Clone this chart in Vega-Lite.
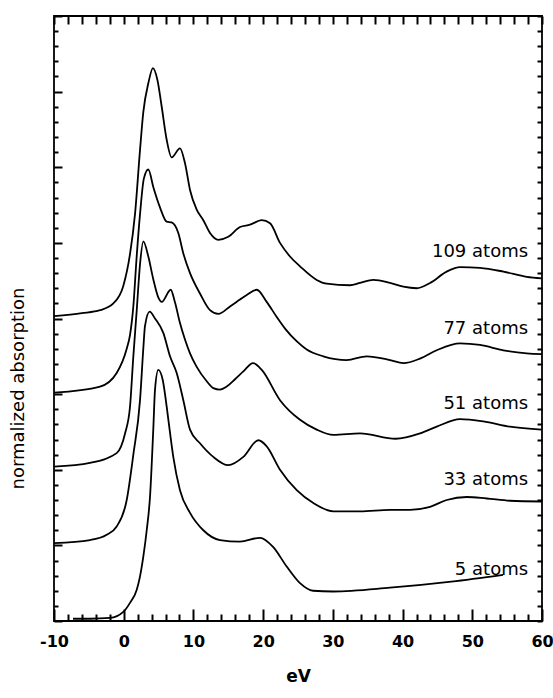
{
  "$schema": "https://vega.github.io/schema/vega-lite/v6.json",
  "width": 488,
  "height": 605,
  "autosize": "none",
  "padding": {"left": 54, "top": 16, "right": 11, "bottom": 77},
  "background": "white",
  "config": {
    "view": {"stroke": "black", "strokeWidth": 1.8},
    "axis": {"domain": false, "grid": false, "tickColor": "black", "tickWidth": 2, "labelColor": "black", "titleColor": "black"}
  },
  "datasets": {
    "curves": [
      {"s": "109 atoms", "x": -10, "y": 4.03}, {"s": "109 atoms", "x": -6, "y": 4.07}, {"s": "109 atoms", "x": -3.4, "y": 4.11}, {"s": "109 atoms", "x": -1.49, "y": 4.2}, {"s": "109 atoms", "x": -0.06, "y": 4.43}, {"s": "109 atoms", "x": 0.9, "y": 4.85}, {"s": "109 atoms", "x": 1.62, "y": 5.38}, {"s": "109 atoms", "x": 2.34, "y": 6.23}, {"s": "109 atoms", "x": 2.81, "y": 6.73}, {"s": "109 atoms", "x": 3.53, "y": 7.11}, {"s": "109 atoms", "x": 4.19, "y": 7.31}, {"s": "109 atoms", "x": 4.82, "y": 7.16}, {"s": "109 atoms", "x": 5.45, "y": 6.8}, {"s": "109 atoms", "x": 6.17, "y": 6.36}, {"s": "109 atoms", "x": 6.88, "y": 6.13}, {"s": "109 atoms", "x": 8.07, "y": 6.25}, {"s": "109 atoms", "x": 8.8, "y": 6.05}, {"s": "109 atoms", "x": 9.51, "y": 5.7}, {"s": "109 atoms", "x": 10.47, "y": 5.44}, {"s": "109 atoms", "x": 11.42, "y": 5.3}, {"s": "109 atoms", "x": 12.38, "y": 5.13}, {"s": "109 atoms", "x": 13.57, "y": 5.04}, {"s": "109 atoms", "x": 15.0, "y": 5.08}, {"s": "109 atoms", "x": 16.68, "y": 5.21}, {"s": "109 atoms", "x": 18.12, "y": 5.24}, {"s": "109 atoms", "x": 19.8, "y": 5.3}, {"s": "109 atoms", "x": 20.99, "y": 5.26}, {"s": "109 atoms", "x": 22.42, "y": 5.0}, {"s": "109 atoms", "x": 23.85, "y": 4.82}, {"s": "109 atoms", "x": 25.29, "y": 4.69}, {"s": "109 atoms", "x": 27.68, "y": 4.51}, {"s": "109 atoms", "x": 29.12, "y": 4.46}, {"s": "109 atoms", "x": 32.46, "y": 4.44}, {"s": "109 atoms", "x": 33.9, "y": 4.47}, {"s": "109 atoms", "x": 35.8, "y": 4.51}, {"s": "109 atoms", "x": 38.2, "y": 4.47}, {"s": "109 atoms", "x": 40.11, "y": 4.42}, {"s": "109 atoms", "x": 42.03, "y": 4.4}, {"s": "109 atoms", "x": 43.94, "y": 4.47}, {"s": "109 atoms", "x": 46.33, "y": 4.62}, {"s": "109 atoms", "x": 48.24, "y": 4.68}, {"s": "109 atoms", "x": 51.11, "y": 4.67}, {"s": "109 atoms", "x": 54.46, "y": 4.62}, {"s": "109 atoms", "x": 57.81, "y": 4.55}, {"s": "109 atoms", "x": 59.96, "y": 4.53},
      {"s": "77 atoms", "x": -10, "y": 3.02}, {"s": "77 atoms", "x": -3.4, "y": 3.1}, {"s": "77 atoms", "x": -1.01, "y": 3.28}, {"s": "77 atoms", "x": 0.43, "y": 3.6}, {"s": "77 atoms", "x": 0.9, "y": 3.78}, {"s": "77 atoms", "x": 1.38, "y": 4.16}, {"s": "77 atoms", "x": 1.86, "y": 4.82}, {"s": "77 atoms", "x": 2.34, "y": 5.38}, {"s": "77 atoms", "x": 2.89, "y": 5.85}, {"s": "77 atoms", "x": 3.53, "y": 5.97}, {"s": "77 atoms", "x": 4.24, "y": 5.74}, {"s": "77 atoms", "x": 5.2, "y": 5.47}, {"s": "77 atoms", "x": 6.17, "y": 5.28}, {"s": "77 atoms", "x": 6.88, "y": 5.27}, {"s": "77 atoms", "x": 7.83, "y": 5.13}, {"s": "77 atoms", "x": 8.55, "y": 4.86}, {"s": "77 atoms", "x": 9.51, "y": 4.6}, {"s": "77 atoms", "x": 10.94, "y": 4.33}, {"s": "77 atoms", "x": 12.38, "y": 4.11}, {"s": "77 atoms", "x": 13.57, "y": 4.06}, {"s": "77 atoms", "x": 15.25, "y": 4.16}, {"s": "77 atoms", "x": 16.68, "y": 4.25}, {"s": "77 atoms", "x": 17.64, "y": 4.31}, {"s": "77 atoms", "x": 19.08, "y": 4.38}, {"s": "77 atoms", "x": 20.51, "y": 4.22}, {"s": "77 atoms", "x": 21.95, "y": 4.02}, {"s": "77 atoms", "x": 23.2, "y": 3.86}, {"s": "77 atoms", "x": 24.8, "y": 3.7}, {"s": "77 atoms", "x": 26.25, "y": 3.59}, {"s": "77 atoms", "x": 28.63, "y": 3.5}, {"s": "77 atoms", "x": 31.99, "y": 3.45}, {"s": "77 atoms", "x": 34.86, "y": 3.5}, {"s": "77 atoms", "x": 38.2, "y": 3.45}, {"s": "77 atoms", "x": 40.11, "y": 3.41}, {"s": "77 atoms", "x": 42.5, "y": 3.47}, {"s": "77 atoms", "x": 44.9, "y": 3.58}, {"s": "77 atoms", "x": 48.24, "y": 3.67}, {"s": "77 atoms", "x": 51.11, "y": 3.65}, {"s": "77 atoms", "x": 54.46, "y": 3.58}, {"s": "77 atoms", "x": 57.81, "y": 3.54}, {"s": "77 atoms", "x": 59.96, "y": 3.53},
      {"s": "51 atoms", "x": -10, "y": 2.04}, {"s": "51 atoms", "x": -4.84, "y": 2.09}, {"s": "51 atoms", "x": -1.01, "y": 2.22}, {"s": "51 atoms", "x": 0.19, "y": 2.48}, {"s": "51 atoms", "x": 0.9, "y": 2.83}, {"s": "51 atoms", "x": 1.38, "y": 3.5}, {"s": "51 atoms", "x": 1.86, "y": 4.1}, {"s": "51 atoms", "x": 2.34, "y": 4.72}, {"s": "51 atoms", "x": 2.81, "y": 5.02}, {"s": "51 atoms", "x": 3.53, "y": 4.82}, {"s": "51 atoms", "x": 4.24, "y": 4.52}, {"s": "51 atoms", "x": 4.96, "y": 4.28}, {"s": "51 atoms", "x": 5.45, "y": 4.22}, {"s": "51 atoms", "x": 6.74, "y": 4.38}, {"s": "51 atoms", "x": 7.36, "y": 4.21}, {"s": "51 atoms", "x": 8.07, "y": 3.94}, {"s": "51 atoms", "x": 8.8, "y": 3.72}, {"s": "51 atoms", "x": 9.51, "y": 3.54}, {"s": "51 atoms", "x": 10.47, "y": 3.36}, {"s": "51 atoms", "x": 11.91, "y": 3.17}, {"s": "51 atoms", "x": 12.85, "y": 3.08}, {"s": "51 atoms", "x": 13.81, "y": 3.06}, {"s": "51 atoms", "x": 14.77, "y": 3.1}, {"s": "51 atoms", "x": 16.0, "y": 3.2}, {"s": "51 atoms", "x": 17.16, "y": 3.3}, {"s": "51 atoms", "x": 18.55, "y": 3.41}, {"s": "51 atoms", "x": 19.8, "y": 3.32}, {"s": "51 atoms", "x": 22.42, "y": 2.92}, {"s": "51 atoms", "x": 25.29, "y": 2.66}, {"s": "51 atoms", "x": 27.68, "y": 2.53}, {"s": "51 atoms", "x": 30.07, "y": 2.46}, {"s": "51 atoms", "x": 33.9, "y": 2.48}, {"s": "51 atoms", "x": 39.0, "y": 2.41}, {"s": "51 atoms", "x": 42.5, "y": 2.48}, {"s": "51 atoms", "x": 44.9, "y": 2.57}, {"s": "51 atoms", "x": 48.24, "y": 2.67}, {"s": "51 atoms", "x": 51.59, "y": 2.64}, {"s": "51 atoms", "x": 55.41, "y": 2.57}, {"s": "51 atoms", "x": 59.96, "y": 2.53},
      {"s": "33 atoms", "x": -10, "y": 1.03}, {"s": "33 atoms", "x": -4.84, "y": 1.07}, {"s": "33 atoms", "x": -2.44, "y": 1.14}, {"s": "33 atoms", "x": -1.01, "y": 1.25}, {"s": "33 atoms", "x": 0.43, "y": 1.6}, {"s": "33 atoms", "x": 1.38, "y": 2.2}, {"s": "33 atoms", "x": 2.34, "y": 2.92}, {"s": "33 atoms", "x": 2.81, "y": 3.6}, {"s": "33 atoms", "x": 3.05, "y": 3.9}, {"s": "33 atoms", "x": 3.72, "y": 4.09}, {"s": "33 atoms", "x": 4.49, "y": 4.0}, {"s": "33 atoms", "x": 5.68, "y": 3.81}, {"s": "33 atoms", "x": 6.64, "y": 3.5}, {"s": "33 atoms", "x": 7.6, "y": 3.28}, {"s": "33 atoms", "x": 8.55, "y": 2.92}, {"s": "33 atoms", "x": 9.51, "y": 2.53}, {"s": "33 atoms", "x": 10.94, "y": 2.35}, {"s": "33 atoms", "x": 12.85, "y": 2.17}, {"s": "33 atoms", "x": 15.0, "y": 2.06}, {"s": "33 atoms", "x": 17.16, "y": 2.17}, {"s": "33 atoms", "x": 19.31, "y": 2.39}, {"s": "33 atoms", "x": 20.51, "y": 2.31}, {"s": "33 atoms", "x": 22.42, "y": 2.0}, {"s": "33 atoms", "x": 24.82, "y": 1.73}, {"s": "33 atoms", "x": 27.2, "y": 1.56}, {"s": "33 atoms", "x": 30.07, "y": 1.45}, {"s": "33 atoms", "x": 33.9, "y": 1.45}, {"s": "33 atoms", "x": 38.2, "y": 1.47}, {"s": "33 atoms", "x": 41.07, "y": 1.47}, {"s": "33 atoms", "x": 43.94, "y": 1.51}, {"s": "33 atoms", "x": 46.33, "y": 1.6}, {"s": "33 atoms", "x": 49.2, "y": 1.64}, {"s": "33 atoms", "x": 52.07, "y": 1.62}, {"s": "33 atoms", "x": 55.41, "y": 1.59}, {"s": "33 atoms", "x": 59.96, "y": 1.58},
      {"s": "5 atoms", "x": -7.27, "y": 0.03}, {"s": "5 atoms", "x": -4.84, "y": 0.03}, {"s": "5 atoms", "x": -1.97, "y": 0.04}, {"s": "5 atoms", "x": -0.06, "y": 0.12}, {"s": "5 atoms", "x": 0.9, "y": 0.24}, {"s": "5 atoms", "x": 1.86, "y": 0.41}, {"s": "5 atoms", "x": 2.34, "y": 0.59}, {"s": "5 atoms", "x": 2.81, "y": 0.85}, {"s": "5 atoms", "x": 3.3, "y": 1.2}, {"s": "5 atoms", "x": 3.77, "y": 1.64}, {"s": "5 atoms", "x": 4.24, "y": 2.53}, {"s": "5 atoms", "x": 4.49, "y": 3.06}, {"s": "5 atoms", "x": 4.96, "y": 3.32}, {"s": "5 atoms", "x": 5.59, "y": 3.19}, {"s": "5 atoms", "x": 6.17, "y": 2.83}, {"s": "5 atoms", "x": 6.64, "y": 2.49}, {"s": "5 atoms", "x": 7.11, "y": 2.17}, {"s": "5 atoms", "x": 8.07, "y": 1.73}, {"s": "5 atoms", "x": 9.51, "y": 1.43}, {"s": "5 atoms", "x": 11.42, "y": 1.2}, {"s": "5 atoms", "x": 13.81, "y": 1.07}, {"s": "5 atoms", "x": 16.68, "y": 1.05}, {"s": "5 atoms", "x": 19.55, "y": 1.1}, {"s": "5 atoms", "x": 21.42, "y": 0.98}, {"s": "5 atoms", "x": 23.38, "y": 0.72}, {"s": "5 atoms", "x": 25.29, "y": 0.5}, {"s": "5 atoms", "x": 27.15, "y": 0.4}, {"s": "5 atoms", "x": 30.02, "y": 0.39}, {"s": "5 atoms", "x": 38.2, "y": 0.44}, {"s": "5 atoms", "x": 47.0, "y": 0.52}, {"s": "5 atoms", "x": 54.41, "y": 0.61}
    ],
    "labels": [
      {"s": "109 atoms", "x": 58.0, "y": 4.88},
      {"s": "77 atoms", "x": 58.0, "y": 3.86},
      {"s": "51 atoms", "x": 58.0, "y": 2.87},
      {"s": "33 atoms", "x": 58.0, "y": 1.87},
      {"s": "5 atoms", "x": 58.0, "y": 0.68}
    ]
  },
  "layer": [
    {
      "data": {"name": "curves"},
      "mark": {"type": "line", "color": "black", "strokeWidth": 1.8, "interpolate": "monotone"},
      "encoding": {
        "x": {
          "field": "x", "type": "quantitative",
          "scale": {"domain": [-10, 60], "nice": false, "zero": false},
          "axis": {
            "orient": "bottom",
            "values": [-10, -8, -6, -4, -2, 0, 2, 4, 6, 8, 10, 12, 14, 16, 18, 20, 22, 24, 26, 28, 30, 32, 34, 36, 38, 40, 42, 44, 46, 48, 50, 52, 54, 56, 58, 60],
            "tickSize": {"condition": {"test": "datum.value % 10 === 0", "value": -12}, "value": -7},
            "tickColor": "black",
            "labelExpr": "datum.value % 10 === 0 ? '' + datum.value : ''",
            "labelFont": "DejaVu Sans", "labelFontWeight": "bold", "labelFontSize": 16,
            "labelPadding": 24, "labelFlush": false, "labelOverlap": false,
            "title": "eV", "titleFont": "DejaVu Sans", "titleFontWeight": "bold", "titleFontSize": 17,
            "titleY": 55, "titleBaseline": "middle"
          }
        },
        "y": {
          "field": "y", "type": "quantitative",
          "scale": {"domain": [0, 8], "nice": false, "zero": false},
          "axis": {
            "orient": "left",
            "values": [0, 0.2, 0.4, 0.6, 0.8, 1, 1.2, 1.4, 1.6, 1.8, 2, 2.2, 2.4, 2.6, 2.8, 3, 3.2, 3.4, 3.6, 3.8, 4, 4.2, 4.4, 4.6, 4.8, 5, 5.2, 5.4, 5.6, 5.8, 6, 6.2, 6.4, 6.6, 6.8, 7, 7.2, 7.4, 7.6, 7.8, 8],
            "tickSize": {"condition": {"test": "abs(datum.value - round(datum.value)) < 0.001", "value": -8}, "value": -4},
            "labels": false,
            "title": "normalized absorption", "titleFont": "DejaVu Sans", "titleFontWeight": "normal", "titleFontSize": 18,
            "titleX": -36, "titleY": 372, "titleBaseline": "middle", "titleAlign": "center", "titleAngle": 270
          }
        },
        "detail": {"field": "s"}
      }
    },
    {
      "data": {"name": "labels"},
      "mark": {"type": "text", "align": "right", "baseline": "middle", "font": "DejaVu Sans", "fontSize": 18, "color": "black"},
      "encoding": {
        "x": {
          "field": "x", "type": "quantitative",
          "scale": {"domain": [-10, 60], "nice": false, "zero": false},
          "axis": {
            "orient": "top",
            "values": [-10, -8, -6, -4, -2, 0, 2, 4, 6, 8, 10, 12, 14, 16, 18, 20, 22, 24, 26, 28, 30, 32, 34, 36, 38, 40, 42, 44, 46, 48, 50, 52, 54, 56, 58, 60],
            "tickSize": -8, "tickColor": "black",
            "labels": false, "title": null
          }
        },
        "y": {
          "field": "y", "type": "quantitative",
          "scale": {"domain": [0, 8], "nice": false, "zero": false},
          "axis": {
            "orient": "right",
            "values": [0, 0.2, 0.4, 0.6, 0.8, 1, 1.2, 1.4, 1.6, 1.8, 2, 2.2, 2.4, 2.6, 2.8, 3, 3.2, 3.4, 3.6, 3.8, 4, 4.2, 4.4, 4.6, 4.8, 5, 5.2, 5.4, 5.6, 5.8, 6, 6.2, 6.4, 6.6, 6.8, 7, 7.2, 7.4, 7.6, 7.8, 8],
            "tickSize": -5, "tickColor": "black",
            "labels": false, "title": null
          }
        },
        "text": {"field": "s"}
      }
    }
  ],
  "resolve": {"scale": {"x": "independent", "y": "independent"}, "axis": {"x": "independent", "y": "independent"}}
}
